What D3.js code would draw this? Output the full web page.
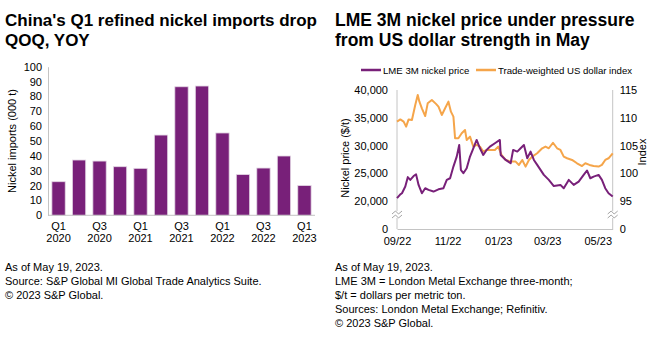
<!DOCTYPE html>
<html>
<head>
<meta charset="utf-8">
<script src="https://cdn.jsdelivr.net/npm/d3@7"></script>
<style>
  body { margin: 0; background: #fff; }
  svg { display: block; font-family: "Liberation Sans", Arial, sans-serif; }
</style>
</head>
<body>
<div id="chart"></div>
<script>
// Left chart: quarterly refined nickel imports (000 t)
const quarters = ["Q1 2020", "Q2 2020", "Q3 2020", "Q4 2020", "Q1 2021", "Q2 2021", "Q3 2021",
  "Q4 2021", "Q1 2022", "Q2 2022", "Q3 2022", "Q4 2022", "Q1 2023"];
const imports = [22.6, 37.2, 36.5, 32.7, 31.6, 54.0, 86.5, 87.0, 55.4, 27.4, 31.8, 39.9, 20.0];
const importTicks = [0, 10, 20, 30, 40, 50, 60, 70, 80, 90, 100];

// Right chart: LME 3M nickel price ($/t)
const nickelDates = ["2022-09-01", "2022-09-05", "2022-09-07", "2022-09-11", "2022-09-14", "2022-09-17",
  "2022-09-21", "2022-09-24", "2022-09-27", "2022-10-01", "2022-10-05", "2022-10-09", "2022-10-15",
  "2022-10-21", "2022-10-27", "2022-10-31", "2022-11-04", "2022-11-08", "2022-11-12", "2022-11-15",
  "2022-11-17", "2022-11-20", "2022-11-24", "2022-11-28", "2022-12-02", "2022-12-06", "2022-12-10",
  "2022-12-14", "2022-12-18", "2022-12-22", "2022-12-28", "2023-01-03", "2023-01-04", "2023-01-10",
  "2023-01-16", "2023-01-19", "2023-01-24", "2023-01-28", "2023-02-01", "2023-02-05", "2023-02-09",
  "2023-02-13", "2023-02-17", "2023-02-21", "2023-02-25", "2023-03-03", "2023-03-09", "2023-03-17",
  "2023-03-21", "2023-03-27", "2023-04-02", "2023-04-08", "2023-04-14", "2023-04-18", "2023-04-22",
  "2023-04-26", "2023-05-02", "2023-05-06", "2023-05-10", "2023-05-14", "2023-05-19"];
const nickelPrice = [20500, 21200, 21400, 22600, 24300, 23800, 24500, 24800, 22900, 21400, 22300,
  22000, 21700, 22100, 22300, 23800, 24100, 26200, 28000, 30100, 25600, 25000, 25900, 28000, 29500,
  31000, 29500, 28300, 29200, 29800, 30400, 31000, 28300, 27400, 26800, 29200, 28900, 29500, 30100,
  27700, 28900, 27400, 26500, 25600, 24700, 23800, 22700, 22900, 22300, 23800, 22900, 23500, 24700,
  25500, 24100, 24400, 24700, 23800, 22300, 21400, 20800];

// Right chart: trade-weighted US dollar index
const usdDates = ["2022-09-01", "2022-09-05", "2022-09-09", "2022-09-12", "2022-09-15", "2022-09-19",
  "2022-09-23", "2022-09-26", "2022-09-28", "2022-10-01", "2022-10-05", "2022-10-08", "2022-10-13",
  "2022-10-18", "2022-10-21", "2022-10-25", "2022-10-29", "2022-11-02", "2022-11-05", "2022-11-08",
  "2022-11-10", "2022-11-14", "2022-11-18", "2022-11-22", "2022-11-24", "2022-11-28", "2022-12-02",
  "2022-12-06", "2022-12-10", "2022-12-14", "2022-12-18", "2022-12-22", "2022-12-28", "2023-01-01",
  "2023-01-05", "2023-01-10", "2023-01-16", "2023-01-22", "2023-01-26", "2023-01-30", "2023-02-03",
  "2023-02-07", "2023-02-11", "2023-02-17", "2023-02-23", "2023-02-27", "2023-03-03", "2023-03-08",
  "2023-03-13", "2023-03-17", "2023-03-21", "2023-03-25", "2023-03-31", "2023-04-06", "2023-04-12",
  "2023-04-16", "2023-04-21", "2023-04-26", "2023-05-02", "2023-05-06", "2023-05-10", "2023-05-14",
  "2023-05-19"];
const usdIndex = [109.3, 109.7, 109.3, 108.4, 109.7, 109.6, 112.3, 114.1, 112.9, 111.7, 110.3, 112.6,
  113.2, 112.5, 112.0, 110.5, 111.7, 112.9, 111.1, 110.2, 106.3, 106.3, 107.2, 107.8, 106.0, 106.6,
  104.8, 105.1, 104.8, 103.9, 104.2, 104.2, 104.2, 104.8, 103.3, 102.4, 102.1, 102.1, 101.5, 102.4,
  101.2, 102.4, 103.0, 103.6, 104.5, 104.8, 104.5, 105.5, 104.5, 104.2, 103.0, 102.7, 102.4, 101.8,
  101.3, 101.8, 101.5, 101.3, 101.2, 101.5, 102.4, 102.7, 103.6];
const priceTicks = [20000, 25000, 30000, 35000, 40000];
const indexTicks = [95, 100, 105, 110, 115];
const dateTicks = ["2022-09-01", "2022-11-01", "2023-01-01", "2023-03-01", "2023-05-01"];

const purple = "#782079";
const orange = "#f5a54a";
const axisGray = "#c4c4c4";

const W = 660, H = 338;
const svg = d3.select("#chart").append("svg")
  .attr("width", W)
  .attr("height", H);

// ---------- left chart ----------
const left = svg.append("g");

left.append("text")
  .attr("x", 5).attr("y", 26)
  .attr("font-size", "17px").attr("font-weight", "bold")
  .text("China's Q1 refined nickel imports drop");
left.append("text")
  .attr("x", 5).attr("y", 46)
  .attr("font-size", "17px").attr("font-weight", "bold")
  .text("QOQ, YOY");

const xBand = d3.scaleBand()
  .domain(quarters)
  .range([48, 315])
  .paddingInner(0.35)
  .paddingOuter(0.19);

const yImp = d3.scaleLinear()
  .domain([0, 100])
  .range([215.3, 66.7]);

left.selectAll("rect.bar")
  .data(quarters)
  .enter()
  .append("rect")
  .attr("class", "bar")
  .attr("x", d => xBand(d))
  .attr("width", xBand.bandwidth())
  .attr("y", (d, i) => yImp(imports[i]))
  .attr("height", (d, i) => yImp(0) - yImp(imports[i]))
  .attr("fill", purple)
  .attr("stroke", "#e3d6e4")
  .attr("stroke-width", 0.8);

const yAxisL = left.append("g")
  .attr("transform", "translate(48,0)")
  .call(d3.axisLeft(yImp).tickValues(importTicks).tickSize(0).tickPadding(6));
yAxisL.select(".domain").attr("stroke", axisGray);

const xAxisL = left.append("g")
  .attr("transform", `translate(0,${yImp(0)})`)
  .call(d3.axisBottom(xBand).tickSize(0).tickFormat(""));
xAxisL.select(".domain").attr("stroke", axisGray).attr("d", `M48,0H315`);

// two-line quarter labels on every other bar
quarters.forEach((q, i) => {
  if (i % 2 !== 0) return;
  const parts = q.split(" ");
  const t = left.append("text")
    .attr("x", xBand(q) + xBand.bandwidth() / 2)
    .attr("text-anchor", "middle")
    .attr("font-size", "11px");
  t.append("tspan").attr("x", xBand(q) + xBand.bandwidth() / 2).attr("y", 230).text(parts[0]);
  t.append("tspan").attr("x", xBand(q) + xBand.bandwidth() / 2).attr("y", 242).text(parts[1]);
});

left.append("text")
  .attr("transform", "translate(16,141) rotate(-90)")
  .attr("text-anchor", "middle")
  .attr("font-size", "11px")
  .text("Nickel imports (000 t)");

const notesL = ["As of May 19, 2023.", "Source: S&P Global MI Global Trade Analytics Suite.", "\u00a9 2023 S&P Global."];
left.selectAll("text.note")
  .data(notesL)
  .enter()
  .append("text")
  .attr("class", "note")
  .attr("x", 5)
  .attr("y", (d, i) => 271 + i * 14)
  .attr("font-size", "11px")
  .text(d => d);

// ---------- right chart ----------
const right = svg.append("g");

right.append("text")
  .attr("x", 335).attr("y", 26)
  .attr("font-size", "17.5px").attr("font-weight", "bold")
  .text("LME 3M nickel price under pressure");
right.append("text")
  .attr("x", 335).attr("y", 46)
  .attr("font-size", "17.5px").attr("font-weight", "bold")
  .text("from US dollar strength in May");

const parse = d3.timeParse("%Y-%m-%d");
const xTime = d3.scaleTime()
  .domain([parse("2022-09-01"), parse("2023-05-19")])
  .range([397, 612.7]);
const yPrice = d3.scaleLinear().domain([20000, 40000]).range([201, 90]);
const yIndex = d3.scaleLinear().domain([95, 115]).range([201, 90]);
const zeroY = 229;
const breakY = 215;

// legend
const legend = right.append("g").attr("font-size", "9.6px");
legend.append("line").attr("x1", 361).attr("x2", 381).attr("y1", 70).attr("y2", 70)
  .attr("stroke", purple).attr("stroke-width", 2.5);
legend.append("text").attr("x", 383).attr("y", 73.5).text("LME 3M nickel price");
legend.append("line").attr("x1", 476).attr("x2", 496).attr("y1", 70).attr("y2", 70)
  .attr("stroke", orange).attr("stroke-width", 2.5);
legend.append("text").attr("x", 498).attr("y", 73.5).text("Trade-weighted US dollar index");

// axes
const axL = right.append("g")
  .attr("transform", "translate(397,0)")
  .call(d3.axisLeft(yPrice).tickValues(priceTicks).tickSize(0).tickPadding(9)
    .tickFormat(d3.format(",")));
axL.select(".domain").attr("stroke", axisGray).attr("d", `M0,90V${zeroY}`);

const axR = right.append("g")
  .attr("transform", "translate(612.7,0)")
  .call(d3.axisRight(yIndex).tickValues(indexTicks).tickSize(0).tickPadding(7));
axR.select(".domain").attr("stroke", axisGray).attr("d", `M0,90V${zeroY}`);

const axB = right.append("g")
  .attr("transform", `translate(0,${zeroY})`)
  .call(d3.axisBottom(xTime).tickValues(dateTicks.map(parse)).tickSize(0).tickPadding(8)
    .tickFormat(d3.timeFormat("%m/%y")));
axB.select(".domain").attr("stroke", axisGray);

// zero labels below the axis break
right.append("text").attr("x", 388).attr("y", zeroY + 4)
  .attr("text-anchor", "end").attr("font-size", "11px").text("0");
right.append("text").attr("x", 619.7).attr("y", zeroY + 4)
  .attr("font-size", "11px").text("0");

[axL, axR, axB, yAxisL].forEach(g => g.selectAll(".tick text").attr("font-size", "11px")
  .attr("font-family", "Liberation Sans, Arial, sans-serif").attr("fill", "#000"));

// axis break marks
[397, 612.7].forEach(x => {
  const b = right.append("g").attr("transform", `translate(${x},${breakY})`);
  b.append("rect").attr("x", -2).attr("y", -4).attr("width", 4).attr("height", 7).attr("fill", "#fff");
  [-2.5, 1.5].forEach(dy => {
    b.append("path")
      .attr("d", `M-5,${dy + 1.5}L-1.5,${dy - 1.5}L1.5,${dy + 1.5}L5,${dy - 1.5}`)
      .attr("fill", "none").attr("stroke", "#8c8c8c").attr("stroke-width", 0.8);
  });
});

right.append("text")
  .attr("transform", "translate(349,158) rotate(-90)")
  .attr("text-anchor", "middle")
  .attr("font-size", "11px")
  .text("Nickel price ($/t)");
right.append("text")
  .attr("transform", "translate(646,152) rotate(-90)")
  .attr("text-anchor", "middle")
  .attr("font-size", "11px")
  .text("Index");

// lines
const usdLine = d3.line()
  .x((d, i) => xTime(parse(usdDates[i])))
  .y(d => yIndex(d));
const nickelLine = d3.line()
  .x((d, i) => xTime(parse(nickelDates[i])))
  .y(d => yPrice(d));

right.append("path")
  .datum(usdIndex)
  .attr("d", usdLine)
  .attr("fill", "none")
  .attr("stroke", orange)
  .attr("stroke-width", 2)
  .attr("stroke-linejoin", "round");
right.append("path")
  .datum(nickelPrice)
  .attr("d", nickelLine)
  .attr("fill", "none")
  .attr("stroke", purple)
  .attr("stroke-width", 2)
  .attr("stroke-linejoin", "round");

const notesR = ["As of May 19, 2023.", "LME 3M = London Metal Exchange three-month;",
  "$/t = dollars per metric ton.", "Sources: London Metal Exchange; Refinitiv.", "\u00a9 2023 S&P Global."];
right.selectAll("text.note")
  .data(notesR)
  .enter()
  .append("text")
  .attr("class", "note")
  .attr("x", 335)
  .attr("y", (d, i) => 271 + i * 14)
  .attr("font-size", "11px")
  .text(d => d);
</script>
</body>
</html>
